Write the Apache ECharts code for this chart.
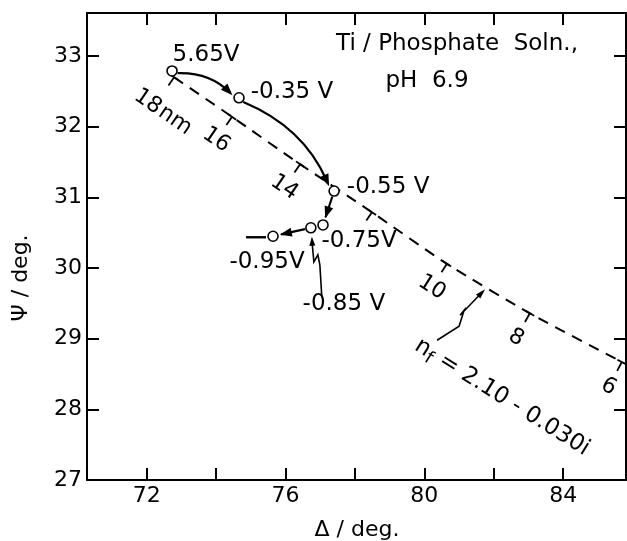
<!DOCTYPE html>
<html><head><meta charset="utf-8">
<script src="https://cdn.jsdelivr.net/npm/echarts@6/dist/echarts.min.js"></script>
<style>html,body{margin:0;padding:0;background:#fff}#c{width:627px;height:541px}</style>
</head><body><div id="c"></div>
<script>
// ---- data ----
const potentialLabels = ['5.65V', '-0.35 V', '-0.55 V', '-0.75V', '-0.85 V', '-0.95V'];
const deltaMeasured = [72.73, 74.66, 77.40, 77.08, 76.73, 75.64];
const psiMeasured   = [32.79, 32.41, 31.09, 30.61, 30.57, 30.45];

const filmThickness = [18, 16, 14, 12, 10, 8, 6];
const thicknessText = ['18', '16', '14', '', '10', '8', '6'];
const deltaFilm = [72.79, 74.46, 76.42, 78.49, 80.65, 83.04, 85.69];
const psiFilm   = [32.70, 32.14, 31.47, 30.79, 30.06, 29.36, 28.67];

const nfTarget = [81.75, 29.70];

const xTicks  = [72, 74, 76, 78, 80, 82, 84];
const xLabels = [72, 76, 80, 84];
const yTicks  = [27, 28, 29, 30, 31, 32, 33];

// ---- layout (pixel offsets, not data) ----
const FONT = 'DejaVu Sans';
const labelOffsets = [[34, -16], [53, -6], [54, -4], [36, 16], [33, 76], [-6, 26]];
const arrowPairs = [[0, 1, 0.11], [1, 2, 0.10], [2, 3, 0], [4, 5, 0]];

const X_MIN = 70.28, X_MAX = 85.81, Y_MIN = 27, Y_MAX = 33.61;

const chart = echarts.init(document.getElementById('c'));

function arrowHead(tip, dx, dy, len, w) {
  const L = Math.hypot(dx, dy); dx /= L; dy /= L;
  const bx = tip[0] - dx * len, by = tip[1] - dy * len;
  return { type: 'polygon', shape: { points: [tip, [bx - dy * w, by + dx * w], [bx + dy * w, by - dx * w]] }, style: { fill: '#000' } };
}

function renderAnnot(params, api) {
  const ch = [];
  const stroke = { stroke: '#000', lineWidth: 1.8, fill: null };
  const pts = deltaFilm.map((d, i) => api.coord([d, psiFilm[i]]));
  pts.forEach((p, i) => {
    const a = pts[Math.max(i - 1, 0)], b = pts[Math.min(i + 1, pts.length - 1)];
    let dx = b[0] - a[0], dy = b[1] - a[1];
    const L = Math.hypot(dx, dy); dx /= L; dy /= L;
    const nx = -dy, ny = dx;
    ch.push({ type: 'line', shape: { x1: p[0] - dx * 5, y1: p[1] - dy * 5, x2: p[0] + dx * 5, y2: p[1] + dy * 5 }, style: stroke });
    ch.push({ type: 'line', shape: { x1: p[0], y1: p[1], x2: p[0] + nx * 10, y2: p[1] + ny * 10 }, style: stroke });
    const rot = -Math.atan2(dy, dx);
    if (thicknessText[i]) {
      let dist = 28, along = 0;
      if (i === 0) { dist = 35; along = -8; }
      const cx = p[0] + nx * dist + dx * along, cy = p[1] + ny * dist + dy * along;
      ch.push({ type: 'text', x: cx, y: cy, rotation: rot,
        style: { text: thicknessText[i], align: 'center', verticalAlign: 'middle', font: '22px ' + FONT, fill: '#000' } });
      if (i === 0) {
        ch.push({ type: 'text', x: cx + dx * 33, y: cy + dy * 33, rotation: rot,
          style: { text: 'nm', align: 'center', verticalAlign: 'middle', font: '22px ' + FONT, fill: '#000' } });
      }
    }
  });
  const vp = deltaMeasured.map((d, i) => api.coord([d, psiMeasured[i]]));
  arrowPairs.forEach(([i, j, curv]) => {
    const p0 = vp[i], p1 = vp[j];
    let dx = p1[0] - p0[0], dy = p1[1] - p0[1];
    const L = Math.hypot(dx, dy); const ux = dx / L, uy = dy / L;
    const s = [p0[0] + ux * 6, p0[1] + uy * 6], e = [p1[0] - ux * 7, p1[1] - uy * 7];
    const mx = (s[0] + e[0]) / 2, my = (s[1] + e[1]) / 2;
    const cl = Math.hypot(e[0] - s[0], e[1] - s[1]);
    const cp = [mx + uy * curv * cl * 2, my - ux * curv * cl * 2];
    ch.push({ type: 'bezierCurve', shape: { x1: s[0], y1: s[1], x2: e[0] - (e[0] - cp[0]) * 0.1, y2: e[1] - (e[1] - cp[1]) * 0.1, cpx1: cp[0], cpy1: cp[1] }, style: { stroke: '#000', lineWidth: 2.2, fill: null } });
    ch.push(arrowHead(e, e[0] - cp[0], e[1] - cp[1], 12, 4.5));
  });
  const q = vp[5];
  ch.push({ type: 'line', shape: { x1: q[0] - 7, y1: q[1] + 1, x2: q[0] - 27, y2: q[1] + 1 }, style: { stroke: '#000', lineWidth: 2.4 } });
  const r = vp[4];
  const lead = [[11, 70], [9, 37], [7, 27], [3, 34], [1, 12]].map(o => [r[0] + o[0], r[1] + o[1]]);
  ch.push({ type: 'polyline', shape: { points: lead }, style: { stroke: '#000', lineWidth: 1.6, fill: null } });
  ch.push(arrowHead([r[0] + 1, r[1] + 9], -0.5, -10, 9, 3));
  const t = api.coord(nfTarget);
  const lead2 = [[-48, 51], [-26, 37], [-21, 21], [-25, 26], [-2, 2]].map(o => [t[0] + o[0], t[1] + o[1]]);
  ch.push({ type: 'polyline', shape: { points: lead2 }, style: { stroke: '#000', lineWidth: 1.6, fill: null } });
  ch.push(arrowHead([t[0], t[1]], 23, -24, 10, 3));
  const ang = 32 * Math.PI / 180;
  ch.push({ type: 'text', x: t[0] + 17, y: t[1] + 108, rotation: -ang,
    style: { text: '{n|n}{f|f}{n| = 2.10 - 0.030i}', align: 'center', verticalAlign: 'middle', font: '23px ' + FONT, fill: '#000',
      rich: { n: { fontSize: 23, fontFamily: FONT, fill: '#000' }, f: { fontSize: 18, fontFamily: FONT, fill: '#000', padding: [12, 0, 0, 0] } } } });
  return { type: 'group', children: ch };
}

const axisCommon = {
  type: 'value',
  axisLine: { show: true, onZero: false, lineStyle: { color: '#000', width: 2 } },
  axisTick: { show: true, inside: true, length: 12, lineStyle: { color: '#000', width: 2 } },
  splitLine: { show: false }
};

const option = {
  backgroundColor: '#fff',
  animation: false,
  grid: { left: 87, right: 1, top: 13, bottom: 61, containLabel: false },
  xAxis: [
    Object.assign({}, axisCommon, { position: 'bottom', min: X_MIN, max: X_MAX,
      axisTick: Object.assign({}, axisCommon.axisTick, { customValues: xTicks }),
      axisLabel: { customValues: xLabels, fontSize: 22, fontFamily: FONT, color: '#000', margin: 5 } }),
    Object.assign({}, axisCommon, { position: 'top', min: X_MIN, max: X_MAX,
      axisTick: Object.assign({}, axisCommon.axisTick, { customValues: xTicks }),
      axisLabel: { show: false } })
  ],
  yAxis: [
    Object.assign({}, axisCommon, { position: 'left', min: Y_MIN, max: Y_MAX,
      axisTick: Object.assign({}, axisCommon.axisTick, { customValues: yTicks }),
      axisLabel: { customValues: yTicks, fontSize: 22, fontFamily: FONT, color: '#000', margin: 5 } }),
    Object.assign({}, axisCommon, { position: 'right', min: Y_MIN, max: Y_MAX,
      axisTick: Object.assign({}, axisCommon.axisTick, { customValues: yTicks }),
      axisLabel: { show: false } })
  ],
  series: [
    { type: 'line', data: deltaFilm.map((d, i) => [d, psiFilm[i]]), smooth: 0.25, symbol: 'none',
      lineStyle: { color: '#000', width: 2, type: [11, 8] }, z: 2 },
    { type: 'custom', coordinateSystem: 'cartesian2d', data: [[deltaMeasured[0], psiMeasured[0]]],
      renderItem: renderAnnot, clip: false, z: 3, silent: true },
    { type: 'scatter', data: deltaMeasured.map((d, i) => ({ value: [d, psiMeasured[i]],
        label: { show: true, formatter: potentialLabels[i], position: 'inside', offset: labelOffsets[i] } })),
      symbol: 'circle', symbolSize: 10,
      itemStyle: { color: '#fff', borderColor: '#000', borderWidth: 1.6, opacity: 1 },
      label: { color: '#000', fontSize: 23, fontFamily: FONT, align: 'center', verticalAlign: 'middle' }, z: 5 }
  ],
  graphic: [
    { type: 'text', x: 457, y: 44, style: { text: 'Ti / Phosphate  Soln.,', align: 'center', verticalAlign: 'middle', font: '23px ' + FONT, fill: '#000' } },
    { type: 'text', x: 427, y: 81, style: { text: 'pH  6.9', align: 'center', verticalAlign: 'middle', font: '23px ' + FONT, fill: '#000' } },
    { type: 'text', x: 357, y: 530, style: { text: '\u0394 / deg.', align: 'center', verticalAlign: 'middle', font: '22px ' + FONT, fill: '#000' } },
    { type: 'text', x: 21, y: 278, rotation: Math.PI / 2, style: { text: '\u03A8 / deg.', align: 'center', verticalAlign: 'middle', font: '22px ' + FONT, fill: '#000' } }
  ]
};
chart.setOption(option);
</script>
</body></html>
